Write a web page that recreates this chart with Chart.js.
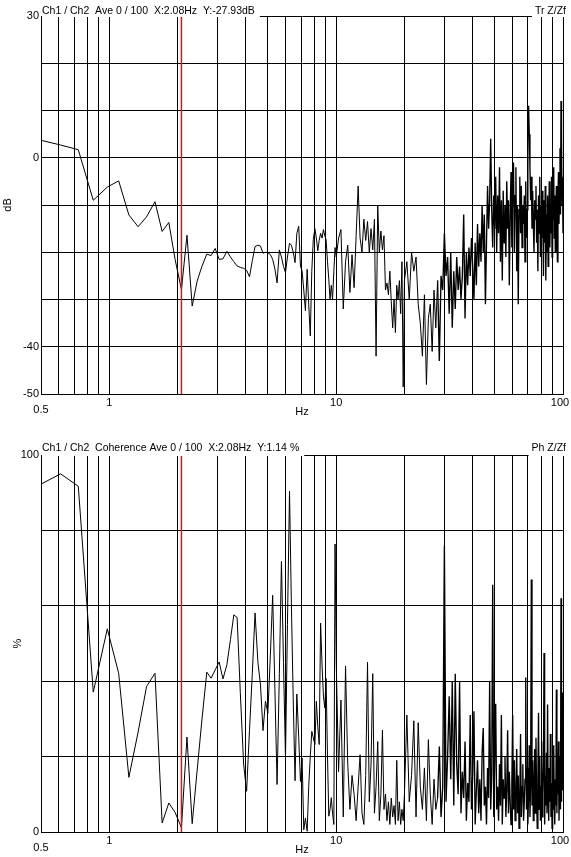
<!DOCTYPE html>
<html>
<head>
<meta charset="utf-8">
<script src="https://cdn.jsdelivr.net/npm/chart.js@4.4.1/dist/chart.umd.min.js"></script>
<style>
  html, body { margin: 0; padding: 0; background: #fff; overflow: hidden; }
  #wrap { position: relative; width: 571px; height: 857px; }
  .panel { position: absolute; left: 0; width: 571px; }
  #topPanel { top: 0; height: 428px; }
  #bottomPanel { top: 428px; height: 429px; }
</style>
</head>
<body>
<div id="wrap">
  <div class="panel" id="topPanel"><canvas id="trChart" width="571" height="428"></canvas></div>
  <div class="panel" id="bottomPanel"><canvas id="cohChart" width="571" height="429"></canvas></div>
</div>
<script>
// frequency bins (Hz): fine below 10 Hz, thinned above
const freqHz = [
  0.49, 0.61, 0.73, 0.85, 0.98, 1.10, 1.22, 1.34, 1.46, 1.59,
  1.71, 1.83, 1.95, 2.08, 2.20, 2.32, 2.44, 2.56, 2.69, 2.81,
  2.93, 3.05, 3.17, 3.30, 3.42, 3.54, 3.66, 3.78, 3.91, 4.03,
  4.15, 4.27, 4.39, 4.52, 4.64, 4.76, 4.88, 5.00, 5.13, 5.25,
  5.37, 5.49, 5.62, 5.74, 5.86, 5.98, 6.10, 6.23, 6.35, 6.47,
  6.59, 6.71, 6.84, 6.96, 7.08, 7.20, 7.32, 7.45, 7.57, 7.69,
  7.81, 7.93, 8.06, 8.18, 8.30, 8.42, 8.54, 8.67, 8.79, 8.91,
  9.03, 9.16, 9.28, 9.40, 9.52, 9.64, 9.77, 9.89, 10.01,
  10.25, 10.5, 10.75, 11, 11.25, 11.5, 11.75, 12, 12.25, 12.5,
  12.75, 13, 13.25, 13.5, 13.75, 14, 14.25, 14.5, 14.75, 15,
  15.25, 15.5, 15.75, 16, 16.25, 16.5, 16.75, 17, 17.25, 17.5,
  17.75, 18, 18.25, 18.5, 18.75, 19, 19.25, 19.5, 19.75, 20,
  20.5, 21, 21.5, 22, 22.5, 23, 23.5, 24, 24.5, 25,
  25.5, 26, 26.5, 27, 27.5, 28, 28.5, 29, 29.5, 30,
  30.5, 31, 31.5, 32, 32.5, 33, 33.5, 34, 34.5, 35,
  35.5, 36, 36.5, 37, 37.5, 38, 38.5, 39, 39.5, 40,
  40.5, 41, 41.5, 42, 42.5, 43, 43.5, 44, 44.5, 45,
  45.5, 46, 46.5, 47, 47.5, 48, 48.5, 49, 49.5, 50,
  50.5, 51, 51.5, 52, 52.5, 53, 53.5, 54, 54.5, 55,
  55.5, 56, 56.5, 57, 57.5, 58, 58.5, 59, 59.5, 60,
  60.5, 61, 61.5, 62, 62.5, 63, 63.5, 64, 64.5, 65,
  65.5, 66, 66.5, 67, 67.5, 68, 68.5, 69, 69.5, 70,
  70.5, 71, 71.5, 72, 72.5, 73, 73.5, 74, 74.5, 75,
  75.5, 76, 76.5, 77, 77.5, 78, 78.5, 79, 79.5, 80,
  80.5, 81, 81.5, 82, 82.5, 83, 83.5, 84, 84.5, 85,
  85.5, 86, 86.5, 87, 87.5, 88, 88.5, 89, 89.5, 90,
  90.5, 91, 91.5, 92, 92.5, 93, 93.5, 94, 94.5, 95,
  95.5, 96, 96.5, 97, 97.5, 98, 98.5, 99, 99.5, 100
];

// Tr Z/Zf magnitude (dB)
const transferDb = [
  3.8, 2.7, 1.7, -9.0, -6.2, -4.9, -12.1, -14.6, -12.5, -9.3,
  -15.6, -13.7, -21.5, -27.9, -16.4, -31.4, -26.1, -23.0, -20.4, -20.7,
  -19.2, -21.5, -21.4, -19.8, -21.0, -22.0, -22.9, -23.2, -23.4, -23.8,
  -25.2, -21.8, -18.8, -18.5, -18.7, -20.2, -20.0, -20.1, -20.5, -21.5,
  -23.5, -26.5, -19.5, -21.0, -23.0, -24.3, -21.0, -18.1, -18.5, -20.0,
  -22.2, -16.0, -14.5, -22.9, -24.0, -28.0, -32.4, -23.6, -31.0, -37.7,
  -24.0, -17.3, -15.0, -17.0, -19.7, -17.5, -16.0, -17.0, -15.2, -16.5,
  -17.3, -22.0, -25.7, -30.0, -27.0, -30.0, -24.0, -19.0, -21.0,
  -17, -15.2, -32, -22, -18.5, -28.5, -20.5, -27.5, -16.5, -6,
  -17, -20, -13, -17.5, -13.5, -20, -15, -19.5, -13, -42,
  -10, -20, -15.5, -19.5, -16.5, -28, -26.5, -29, -24, -30.5,
  -36, -30, -37, -27, -30, -26, -33, -22, -48.5, -26,
  -22, -30, -20, -24, -21, -31, -35, -42, -29, -48,
  -34, -31, -41, -28, -36, -26, -43, -25, -28, -16,
  -25, -21, -33, -20, -36, -24, -32, -21, -28, -23,
  -30, -25, -12, -34, -20, -27, -19, -25, -17, -23,
  -30, -18, -27, -14, -23, -16, -22, -10, -20, -12,
  -31, -18, -6, -15, -9, 4, -11, -19, -8, -15,
  -4, -20, -8, -16, -2, -22, -9, -26, -7, -18,
  -10, -21, -5, -15, -9, -27, -12, -3, -19, -6,
  -1, -20, -8, -2, -24, -10, -31, -11, -4, -16,
  -6, -19, -10, -14, -8, -22, -5, -17, -11, 4,
  11, 5, -2, -9, -4, -15, -7, -14, -20, -9,
  -13, -6, -18, -11, -24, -8, -16, -4, -21, -10,
  -17, -7, -13, -25, -9, -18, -6, -26, -12, -20,
  -8, -23, -14, -5, -19, -10, -16, -4, -21, -9,
  -13, -2, -17, -8, -20, -11, -6, -15, -22, -9,
  -3, -14, -7, 2, -12, 12, 5, -10, -4, -16
];

// Ph Z/Zf coherence (%)
const coherencePct = [
  92, 95, 91.7, 37.1, 53.9, 42.1, 14.5, 26.5, 38.6, 42.1,
  2.4, 7.7, 5.2, 1.14, 25.2, 2.2, 16.4, 29.7, 42.4, 40.8,
  43, 45.1, 40.6, 44.4, 51, 57.6, 56.9, 37, 18, 10.8,
  27, 42, 58.1, 45, 39, 26.9, 34.7, 31.5, 47, 62.8,
  38, 12.6, 42, 71.8, 45, 19.6, 55, 90.4, 60, 35,
  13.6, 36.6, 25, 13.4, 19.6, 0.6, 3.7, 0.2, 12, 20,
  26.7, 25, 23.2, 34.7, 28, 23.2, 55.4, 44, 36, 32.9,
  40.7, 20, 4.2, 6, 9.1, 5, 2, 76.4, 45,
  16, 35, 4, 44, 18, 6, 15, 10, 3, 12,
  20.5, 5, 2, 15, 45, 8, 18, 42, 5, 12,
  24, 3, 10, 27, 6, 10, 3, 8, 2, 9,
  4, 7, 2, 19, 3, 8, 2, 6, 3, 10,
  31, 8, 15, 29.5, 4, 29, 12, 6, 17, 3,
  24.5, 10, 2, 14, 6, 9, 22.7, 4, 12, 76,
  8, 20, 36, 14, 40, 7, 42, 18, 10, 40,
  5, 16, 9, 24, 3, 13, 8, 31, 6, 15,
  32, 2, 11, 19, 5, 14, 3, 21, 27.6, 7,
  12, 2, 17, 9, 40, 6, 15, 65.6, 4, 19,
  34, 6, 12, 3, 18, 7, 31, 2, 14, 9,
  20, 4, 11, 27, 5, 16, 8, 2, 13, 31,
  6, 19, 3, 10, 22, 5, 15, 1, 9, 26,
  4, 12, 18, 3, 8, 14, 41, 6, 17, 2,
  10, 23, 4, 13, 67, 7, 19, 3, 11, 22,
  5, 25, 9, 1, 14, 31.6, 6, 20, 3, 12,
  24, 4, 10, 18, 47.5, 2, 15, 7, 21, 5,
  33.8, 11, 3, 17, 8, 26, 4, 13, 1, 19,
  6, 23, 9, 2, 14, 7, 37.8, 5, 16, 10,
  24, 3, 12, 20, 6, 62, 8, 37, 15, 11
];

const cursorHz = 2.08;
const xGridHz = [0.5, 0.6, 0.7, 0.8, 0.9, 1, 2, 3, 4, 5, 6, 7, 8, 9, 10, 20, 30, 40, 50, 60, 70, 80, 90, 100];
const xLabelHz = [0.5, 1, 10, 100];
const yLabelsDb = [30, 0, -40, -50];
const yLabelsPct = [100, 0];

// above this the bins are thinned, so the trace is drawn a little heavier
const denseFromHz = 28;

const FONT = 'Arial, "Liberation Sans", sans-serif';
Chart.defaults.font.family = FONT;
Chart.defaults.color = '#000';

const headerPlugin = {
    id: 'header',
    afterDraw(chart, args, opts) {
        const { ctx, chartArea: a } = chart;
        ctx.save();
        ctx.font = '10.5px ' + FONT;
        const lw = ctx.measureText(opts.left).width;
        const rw = ctx.measureText(opts.right).width;
        // the captions sit over the top frame line
        ctx.fillStyle = '#fff';
        ctx.fillRect(a.left + 1, a.top - 2, lw + 5, 3);
        ctx.fillRect(opts.rightX - rw - 3, a.top - 2, rw + 3, 3);
        ctx.fillStyle = '#000';
        ctx.textBaseline = 'alphabetic';
        ctx.textAlign = 'left';
        ctx.fillText(opts.left, a.left + 1, a.top - opts.gap);
        ctx.textAlign = 'right';
        ctx.fillText(opts.right, opts.rightX, a.top - opts.gap);
        ctx.restore();
    }
};

const near = (list, v) => list.some(t => Math.abs(t - v) < 1e-9);

function xLabel(v) {
    if (!near(xLabelHz, v)) return '';
    if (v < 1) return ['', String(v)];       // 0.5 sits a bit lower
    if (v >= 100) return String(v) + '  ';   // keep 100 inside the window
    return String(v);
}

function makePanel(canvasId, cfg) {
    const points = freqHz.map((f, i) => ({ x: f, y: cfg.values[i] }));
    const canvasH = document.getElementById(canvasId).height;

    return new Chart(document.getElementById(canvasId), {
        type: 'line',
        data: {
            datasets: [
                {
                    data: [{ x: cursorHz, y: cfg.min }, { x: cursorHz, y: cfg.max }],
                    borderColor: 'rgb(205,25,25)',
                    borderWidth: 1.5,
                    pointRadius: 0,
                    order: 0
                },
                {
                    data: points,
                    borderColor: '#000',
                    borderWidth: 1,
                    pointRadius: 0,
                    tension: 0,
                    order: 1,
                    segment: {
                        borderWidth: (c) => c.p0.parsed.x >= denseFromHz ? 1.35 : undefined
                    }
                }
            ]
        },
        options: {
            responsive: false,
            animation: false,
            layout: { padding: { top: cfg.areaTop, right: 8, bottom: 0, left: 0 } },
            plugins: {
                legend: { display: false },
                tooltip: { enabled: false },
                header: { left: cfg.caption, right: cfg.tag, rightX: 566, gap: cfg.captionGap }
            },
            scales: {
                x: {
                    type: 'logarithmic',
                    min: 0.5,
                    max: 100,
                    afterBuildTicks: (scale) => {
                        scale.ticks = xGridHz.map(v => ({ value: v }));
                    },
                    afterFit: (scale) => {
                        scale.height = canvasH - cfg.areaBottom;
                        scale.paddingLeft = 0;
                        scale.paddingRight = 0;
                    },
                    ticks: {
                        autoSkip: false,
                        maxRotation: 0,
                        minRotation: 0,
                        padding: 5.7,
                        font: { size: 11, lineHeight: 0.6 },
                        callback: xLabel
                    },
                    grid: { color: '#000', lineWidth: 1, drawTicks: false },
                    border: { display: true, color: '#000', width: 1 },
                    title: {
                        display: true,
                        text: 'Hz',
                        font: { size: 11 },
                        padding: { top: 0, bottom: cfg.hzPad }
                    }
                },
                y: {
                    min: cfg.min,
                    max: cfg.max,
                    afterFit: (scale) => {
                        scale.width = 41;
                        scale.paddingTop = 0;
                        scale.paddingBottom = 0;
                    },
                    ticks: {
                        stepSize: cfg.step,
                        padding: 2,
                        font: { size: 11 },
                        callback: (v) => near(cfg.labels, v) ? String(v) : ''
                    },
                    grid: { color: '#000', lineWidth: 1, drawTicks: false },
                    border: { display: true, color: '#000', width: 1 },
                    title: {
                        display: true,
                        text: cfg.unit,
                        font: { size: 11 },
                        padding: { top: cfg.unitPad, bottom: 0 }
                    }
                }
            }
        },
        plugins: [headerPlugin]
    });
}

makePanel('trChart', {
    values: transferDb,
    min: -50, max: 30, step: 10,
    labels: yLabelsDb,
    unit: 'dB', unitPad: 1,
    areaTop: 16, areaBottom: 394, hzPad: 9.4,
    caption: 'Ch1 / Ch2  Ave 0 / 100  X:2.08Hz  Y:-27.93dB',
    tag: 'Tr Z/Zf',
    captionGap: 2
});

makePanel('cohChart', {
    values: coherencePct,
    min: 0, max: 100, step: 20,
    labels: yLabelsPct,
    unit: '%', unitPad: 11,
    areaTop: 27, areaBottom: 404, hzPad: 0.4,
    caption: 'Ch1 / Ch2  Coherence Ave 0 / 100  X:2.08Hz  Y:1.14 %',
    tag: 'Ph Z/Zf',
    captionGap: 4.5
});
</script>
</body>
</html>
